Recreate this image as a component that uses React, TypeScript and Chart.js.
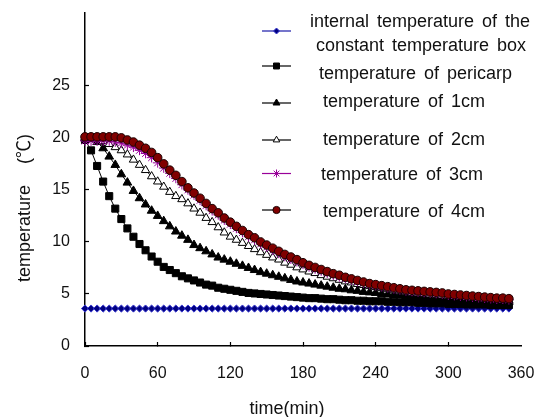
import React, { useEffect, useRef } from 'react';
import { Chart, registerables } from 'chart.js';
import { drawPoint } from 'chart.js/helpers';

Chart.register(...registerables);

const TIMES = [
  0, 5, 10, 15, 20, 25, 30, 35, 40, 45,
  50, 55, 60, 65, 70, 75, 80, 85, 90, 95,
  100, 105, 110, 115, 120, 125, 130, 135, 140, 145,
  150, 155, 160, 165, 170, 175, 180, 185, 190, 195,
  200, 205, 210, 215, 220, 225, 230, 235, 240, 245,
  250, 255, 260, 265, 270, 275, 280, 285, 290, 295,
  300, 305, 310, 315, 320, 325, 330, 335, 340, 345,
  350,
];

const BOX_TEMP = [
  3.6, 3.6, 3.6, 3.6, 3.6, 3.6, 3.6, 3.6, 3.6, 3.6,
  3.6, 3.6, 3.6, 3.6, 3.6, 3.6, 3.6, 3.6, 3.6, 3.6,
  3.6, 3.6, 3.6, 3.6, 3.6, 3.6, 3.6, 3.6, 3.6, 3.6,
  3.6, 3.6, 3.6, 3.6, 3.6, 3.6, 3.6, 3.6, 3.6, 3.6,
  3.6, 3.6, 3.6, 3.6, 3.6, 3.6, 3.6, 3.6, 3.6, 3.6,
  3.6, 3.6, 3.6, 3.6, 3.6, 3.6, 3.6, 3.6, 3.6, 3.6,
  3.6, 3.6, 3.6, 3.6, 3.6, 3.6, 3.6, 3.6, 3.6, 3.6,
  3.6,
];

const PERICARP_TEMP = [
  19.8, 18.8, 17.3, 15.8, 14.4, 13.2, 12.2, 11.3, 10.5, 9.8,
  9.2, 8.6, 8.1, 7.6, 7.3, 7.0, 6.7, 6.5, 6.3, 6.1,
  5.9, 5.8, 5.6, 5.5, 5.4, 5.3, 5.2, 5.1, 5.05, 5.0,
  4.95, 4.9, 4.85, 4.8, 4.75, 4.7, 4.65, 4.6, 4.6, 4.55,
  4.5, 4.5, 4.45, 4.4, 4.4, 4.35, 4.35, 4.3, 4.3, 4.3,
  4.25, 4.25, 4.2, 4.2, 4.2, 4.15, 4.15, 4.1, 4.1, 4.1,
  4.05, 4.05, 4.05, 4.0, 4.0, 4.0, 4.0, 3.95, 3.95, 3.95,
  3.95,
];

const CM1_TEMP = [
  20.0, 19.9, 19.6, 19.0, 18.2, 17.4, 16.5, 15.7, 14.9, 14.2,
  13.6, 13.0, 12.5, 12.0, 11.5, 11.0, 10.6, 10.2, 9.7, 9.4,
  9.1, 8.8, 8.5, 8.3, 8.1, 7.9, 7.7, 7.5, 7.3, 7.1,
  6.95, 6.8, 6.65, 6.5, 6.35, 6.2, 6.1, 6.0, 5.9, 5.8,
  5.7, 5.6, 5.5, 5.45, 5.35, 5.3, 5.2, 5.15, 5.1, 5.0,
  4.95, 4.9, 4.85, 4.8, 4.75, 4.7, 4.65, 4.6, 4.6, 4.55,
  4.5, 4.5, 4.45, 4.4, 4.4, 4.35, 4.35, 4.3, 4.3, 4.25,
  4.25,
];

const CM2_TEMP = [
  20.0, 20.0, 19.9, 19.7, 19.4, 19.1, 18.8, 18.4, 17.9, 17.4,
  16.9, 16.3, 15.8, 15.3, 14.8, 14.4, 14.1, 13.7, 13.2, 12.8,
  12.3, 11.9, 11.4, 10.9, 10.5, 10.2, 9.9, 9.6, 9.3, 9.0,
  8.75, 8.5, 8.3, 8.0, 7.8, 7.55, 7.35, 7.15, 7.0, 6.8,
  6.65, 6.5, 6.35, 6.2, 6.1, 5.95, 5.85, 5.75, 5.65, 5.55,
  5.45, 5.35, 5.3, 5.2, 5.1, 5.05, 5.0, 4.95, 4.9, 4.85,
  4.8, 4.75, 4.7, 4.65, 4.6, 4.55, 4.5, 4.5, 4.45, 4.4,
  4.4,
];

const CM3_TEMP = [
  19.7, 19.7, 19.7, 19.7, 19.7, 19.6, 19.5, 19.3, 19.1, 18.8,
  18.5, 18.1, 17.6, 17.1, 16.6, 16.1, 15.5, 15.0, 14.5, 14.0,
  13.5, 13.0, 12.6, 12.1, 11.7, 11.3, 10.9, 10.5, 10.2, 9.8,
  9.5, 9.2, 8.9, 8.6, 8.35, 8.1, 7.85, 7.6, 7.4, 7.2,
  7.0, 6.8, 6.65, 6.5, 6.35, 6.2, 6.05, 5.9, 5.8, 5.7,
  5.6, 5.5, 5.4, 5.3, 5.25, 5.2, 5.15, 5.1, 5.05, 5.0,
  4.9, 4.85, 4.8, 4.75, 4.7, 4.65, 4.6, 4.55, 4.5, 4.5,
  4.45,
];

const CM4_TEMP = [
  20.1, 20.1, 20.1, 20.1, 20.1, 20.1, 20.0, 19.8, 19.6, 19.3,
  19.0, 18.6, 18.1, 17.5, 16.9, 16.4, 15.8, 15.2, 14.7, 14.2,
  13.7, 13.2, 12.8, 12.3, 11.9, 11.5, 11.1, 10.7, 10.4, 10.0,
  9.7, 9.4, 9.1, 8.8, 8.55, 8.3, 8.0, 7.75, 7.55, 7.35,
  7.15, 6.95, 6.8, 6.6, 6.45, 6.3, 6.15, 6.0, 5.9, 5.8,
  5.7, 5.6, 5.5, 5.4, 5.35, 5.3, 5.25, 5.2, 5.15, 5.1,
  5.0, 4.95, 4.9, 4.85, 4.8, 4.75, 4.7, 4.65, 4.6, 4.6,
  4.55,
];

const SERIES_NAMES = [
  ['internal temperature of the', 'constant temperature box'],
  ['temperature of pericarp'],
  ['temperature of 1cm'],
  ['temperature of 2cm'],
  ['temperature of 3cm'],
  ['temperature of 4cm'],
];

const X_TICKS = [0, 60, 120, 180, 240, 300, 360];
const Y_TICKS = [0, 5, 10, 15, 20, 25];
const X_TITLE = 'time(min)';
const Y_TITLE = 'temperature (℃)';

const FONT = '"Liberation Sans", Arial, "Noto Sans CJK SC", sans-serif';

export default function App() {
  const ref = useRef<HTMLCanvasElement>(null);

  useEffect(() => {
    const canvas = ref.current;
    if (!canvas) return;

    const mk = (vals: number[]) => TIMES.map((t, i) => ({ x: t, y: vals[i] }));

    const styles = [
      { line: '#1a1aa8', fill: '#000080', border: '#3a3ad0', shape: 'rectRot', r: 3.6, bw: 1, lr: 3 },
      { line: '#000000', fill: '#000000', border: '#000000', shape: 'rect', r: 5, bw: 1, lr: 4.2 },
      { line: '#000000', fill: '#000000', border: '#000000', shape: 'triangle', r: 5, bw: 1, lr: 4 },
      { line: '#000000', fill: '#ffffff', border: '#000000', shape: 'triangle', r: 4.8, bw: 1, lr: 3.8 },
      { line: '#990099', fill: '#990099', border: '#990099', shape: 'star', r: 4.8, bw: 1, lr: 4 },
      { line: '#000000', fill: '#800000', border: '#1a0000', shape: 'circle', r: 4.3, bw: 1, lr: 3.6 },
    ];
    const values = [BOX_TEMP, PERICARP_TEMP, CM1_TEMP, CM2_TEMP, CM3_TEMP, CM4_TEMP];

    const datasets = values.map((v, i) => ({
      label: SERIES_NAMES[i].join(' '),
      data: mk(v),
      borderColor: styles[i].line,
      backgroundColor: styles[i].fill,
      borderWidth: 1,
      pointStyle: styles[i].shape,
      pointRadius: styles[i].r,
      pointBackgroundColor: styles[i].fill,
      pointBorderColor: styles[i].border,
      pointBorderWidth: styles[i].bw,
      tension: 0,
      clip: false as any,
      order: 5 - i,
    }));

    const legendLayout = [
      { my: 31, tx: [310, 316], ty: [27, 51] },
      { my: 66, tx: [319], ty: [79] },
      { my: 103, tx: [323], ty: [107] },
      { my: 140, tx: [323], ty: [145] },
      { my: 173.5, tx: [321], ty: [180] },
      { my: 210, tx: [323], ty: [217] },
    ];

    const overlayPlugin = {
      id: 'overlay',
      afterDraw(chart: any) {
        const ctx = chart.ctx as any;
        ctx.save();
        legendLayout.forEach((it, i) => {
          const s = styles[i];
          ctx.strokeStyle = s.line;
          ctx.lineWidth = 1.2;
          ctx.beginPath();
          ctx.moveTo(262, it.my);
          ctx.lineTo(291, it.my);
          ctx.stroke();
          ctx.fillStyle = s.fill;
          ctx.strokeStyle = s.border;
          ctx.lineWidth = s.bw;
          drawPoint(ctx, { pointStyle: s.shape as any, rotation: 0, radius: s.lr, borderWidth: s.bw }, 276.5, it.my);
          ctx.fillStyle = '#111';
          ctx.font = `18px ${FONT}`;
          ctx.textAlign = 'left';
          ctx.textBaseline = 'alphabetic';
          ctx.wordSpacing = '3px';
          SERIES_NAMES[i].forEach((txt, k) => {
            ctx.fillText(txt, it.tx[k], it.ty[k]);
          });
        });
        ctx.wordSpacing = '0px';
        ctx.fillStyle = '#111';
        ctx.font = `18px ${FONT}`;
        ctx.textAlign = 'center';
        ctx.textBaseline = 'middle';
        ctx.fillText(X_TITLE, 287, 409);
        ctx.translate(25, 208);
        ctx.rotate(-Math.PI / 2);
        ctx.wordSpacing = '16px';
        ctx.fillText(Y_TITLE, 0, 0);
        ctx.restore();
      },
    };

    const tickFont = { family: FONT, size: 16 };

    const chart = new Chart(canvas, {
      type: 'line',
      data: { datasets: datasets as any },
      options: {
        animation: false,
        responsive: false,
        layout: { padding: { left: 0, top: 13, right: 16, bottom: 0 } },
        plugins: { legend: { display: false }, tooltip: { enabled: false }, title: { display: false } },
        scales: {
          x: {
            type: 'linear',
            min: 0,
            max: 360,
            afterBuildTicks: (s: any) => {
              s.ticks = X_TICKS.map((v) => ({ value: v }));
            },
            afterFit: (s: any) => {
              s.height = 71;
              s.paddingLeft = 0;
              s.paddingRight = 0;
              s.paddingTop = 0;
              s.paddingBottom = 0;
            },
            ticks: { font: tickFont, color: '#111', padding: 22, maxRotation: 0, autoSkip: false },
            grid: {
              drawOnChartArea: false,
              tickLength: -4,
              tickWidth: 1.2,
              tickColor: (c: any) => (c.tick && c.tick.value === 360 ? 'rgba(0,0,0,0)' : '#000'),
            },
            border: { color: '#000', width: 1.5 },
          },
          y: {
            type: 'linear',
            min: 0,
            max: 32,
            afterBuildTicks: (s: any) => {
              s.ticks = Y_TICKS.map((v) => ({ value: v }));
            },
            afterFit: (s: any) => {
              s.width = 85;
              s.paddingLeft = 0;
              s.paddingRight = 0;
              s.paddingTop = 0;
              s.paddingBottom = 0;
            },
            ticks: { font: tickFont, color: '#111', padding: 19 },
            grid: { drawOnChartArea: false, tickLength: -4, tickWidth: 1.2, tickColor: '#000' },
            border: { color: '#000', width: 1.5 },
          },
        },
      } as any,
      plugins: [overlayPlugin],
    });

    return () => chart.destroy();
  }, []);

  return (
    <div style={{ position: 'fixed', left: 0, top: 0, width: 537, height: 417, background: '#fff' }}>
      <canvas ref={ref} width={537} height={417} style={{ display: 'block', width: 537, height: 417 }} />
    </div>
  );
}
